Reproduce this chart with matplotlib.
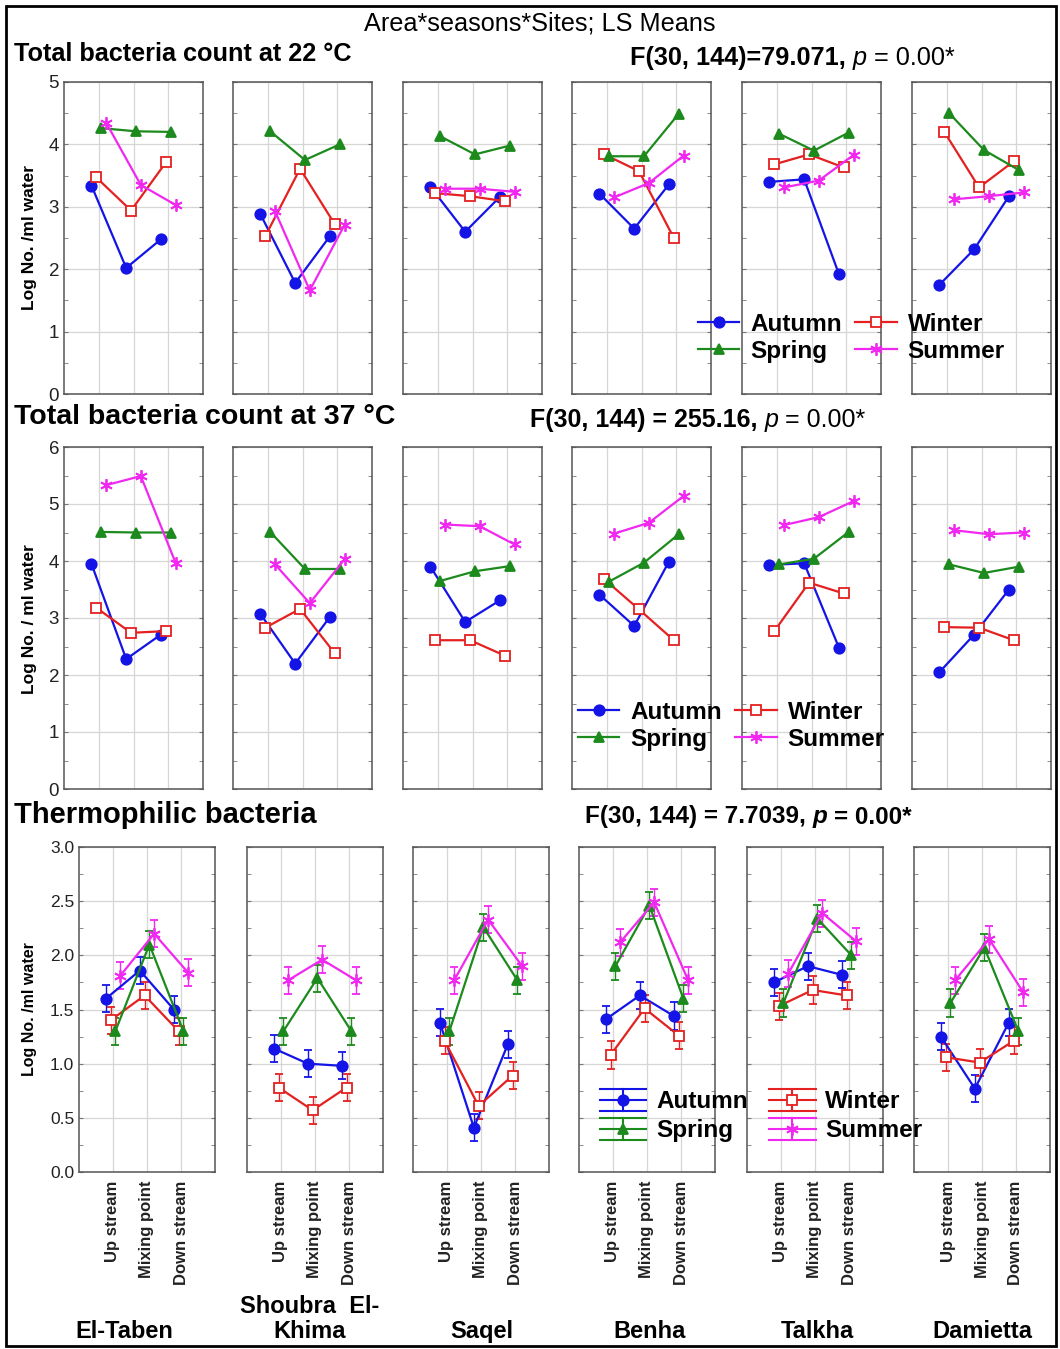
import numpy as np
import matplotlib.pyplot as plt
from matplotlib.lines import Line2D
from matplotlib.patches import Rectangle
from matplotlib.legend_handler import HandlerBase
from matplotlib.ticker import MultipleLocator, FormatStrFormatter

plt.rcParams['font.family'] = ['Liberation Sans', 'DejaVu Sans']

######################## data (log No./ml water) ########################
sites = ['El-Taben', 'Shoubra  El-\nKhima', 'Saqel', 'Benha', 'Talkha', 'Damietta']
points = ['Up stream', 'Mixing point', 'Down stream']
seasons = ['Autumn', 'Winter', 'Spring', 'Summer']

# one row per site: up stream, mixing point, down stream
tbc22_autumn = [[3.34, 2.02, 2.48], [2.88, 1.78, 2.53], [3.32, 2.60, 3.16],
                [3.21, 2.65, 3.36], [3.40, 3.44, 1.92], [1.75, 2.32, 3.17]]
tbc22_winter = [[3.47, 2.94, 3.71], [2.53, 3.61, 2.72], [3.22, 3.17, 3.09],
                [3.84, 3.57, 2.50], [3.68, 3.84, 3.63], [4.20, 3.31, 3.73]]
tbc22_spring = [[4.26, 4.21, 4.20], [4.21, 3.75, 4.00], [4.13, 3.84, 3.98],
                [3.81, 3.81, 4.49], [4.17, 3.90, 4.19], [4.50, 3.91, 3.59]]
tbc22_summer = [[4.35, 3.35, 3.03], [2.93, 1.66, 2.71], [3.29, 3.29, 3.24],
                [3.15, 3.38, 3.82], [3.31, 3.42, 3.83], [3.12, 3.17, 3.23]]

tbc37_autumn = [[3.95, 2.28, 2.71], [3.07, 2.20, 3.02], [3.90, 2.93, 3.31],
                [3.41, 2.86, 3.99], [3.93, 3.96, 2.48], [2.05, 2.71, 3.50]]
tbc37_winter = [[3.18, 2.74, 2.77], [2.83, 3.16, 2.38], [2.61, 2.61, 2.34],
                [3.68, 3.15, 2.61], [2.77, 3.62, 3.43], [2.84, 2.83, 2.61]]
tbc37_spring = [[4.51, 4.50, 4.50], [4.51, 3.86, 3.86], [3.65, 3.82, 3.91],
                [3.64, 3.97, 4.47], [3.94, 4.04, 4.51], [3.94, 3.79, 3.90]]
tbc37_summer = [[5.33, 5.49, 3.97], [3.94, 3.26, 4.03], [4.64, 4.61, 4.29],
                [4.48, 4.67, 5.14], [4.63, 4.77, 5.05], [4.54, 4.47, 4.50]]

thermo_autumn = [[1.60, 1.86, 1.50], [1.14, 1.00, 0.98], [1.38, 0.41, 1.18],
                 [1.41, 1.63, 1.44], [1.75, 1.90, 1.82], [1.25, 0.77, 1.38]]
thermo_winter = [[1.40, 1.63, 1.30], [0.78, 0.57, 0.78], [1.21, 0.61, 0.89],
                 [1.08, 1.51, 1.26], [1.53, 1.68, 1.63], [1.06, 1.01, 1.21]]
thermo_spring = [[1.30, 2.10, 1.30], [1.30, 1.79, 1.30], [1.30, 2.26, 1.77],
                 [1.90, 2.46, 1.60], [1.56, 2.34, 2.00], [1.56, 2.07, 1.30]]
thermo_summer = [[1.81, 2.20, 1.84], [1.77, 1.96, 1.77], [1.77, 2.33, 1.90],
                 [2.12, 2.49, 1.77], [1.83, 2.39, 2.13], [1.77, 2.15, 1.66]]
thermo_se = 0.125

######################## styles / layout ########################
W, H = 1060, 1349
colors = {'Autumn': '#1414e6', 'Winter': '#e42020', 'Spring': '#1c8a1c', 'Summer': '#f028f0'}
markers = {'Autumn': 'o', 'Winter': 's', 'Spring': '^', 'Summer': (6, 2, 0)}
msizes = {'Autumn': 7.5, 'Winter': 6.5, 'Spring': 6.5, 'Summer': 9}
shift = {'Autumn': -0.21, 'Winter': -0.07, 'Spring': 0.07, 'Summer': 0.21}


def rect(left, top, width, height):
    return [left / W, 1 - (top + height) / H, width / W, height / H]


def style(season):
    c = colors[season]
    return dict(color=c, marker=markers[season], ms=msizes[season], mec=c,
                mfc='white' if season == 'Winter' else c, mew=1.3, lw=1.6)


fig = plt.figure(figsize=(W / 100, H / 100), dpi=100)
renderer = fig.canvas.get_renderer()


def panel(box, data, site, ymax, step, ylabels, err=None, xlabels=False):
    ax = fig.add_axes(rect(*box))
    for s, season in enumerate(seasons):
        x = np.arange(1, 4) + shift[season]
        y = data[s][site]
        if err is None:
            ax.plot(x, y, zorder=3, **style(season))
        else:
            ax.errorbar(x, y, yerr=err, capsize=3, elinewidth=1.0, capthick=1.0,
                        zorder=3, **style(season))
    ax.set_xlim(0, 4)
    ax.set_ylim(0, ymax)
    ax.set_xticks([1, 2, 3])
    ax.yaxis.set_major_locator(MultipleLocator(step))
    ax.yaxis.set_minor_locator(MultipleLocator(step / 2))
    ax.grid(True, which='major', color='#d6d6d6', lw=0.9)
    ax.set_axisbelow(True)
    for sp in ax.spines.values():
        sp.set_color('#555555')
        sp.set_linewidth(1.1)
    ax.tick_params(which='both', direction='in', length=3, color='#777777',
                   right=True, top=False, labelcolor='#222222')
    ax.tick_params(axis='y', labelsize=13.5 if step >= 1 else 12.5)
    ax.tick_params(axis='x', length=0)
    if step < 1:
        ax.yaxis.set_major_formatter(FormatStrFormatter('%.1f'))
    if not ylabels:
        ax.set_yticklabels([])
    if xlabels:
        ax.set_xticklabels(points, rotation=90, fontweight='bold', fontsize=12,
                           va='top', ha='center')
        ax.tick_params(axis='x', pad=6)
    else:
        ax.set_xticklabels([])
    return ax


lefts_top = [64, 233, 403, 572, 742, 912]
lefts_bot = [79, 247, 413, 579, 747, 914]

tbc22 = [tbc22_autumn, tbc22_winter, tbc22_spring, tbc22_summer]
tbc37 = [tbc37_autumn, tbc37_winter, tbc37_spring, tbc37_summer]
thermo = [thermo_autumn, thermo_winter, thermo_spring, thermo_summer]

for i in range(6):
    panel((lefts_top[i], 82, 139, 312), tbc22, i, 5, 1, i == 0)
    panel((lefts_top[i], 447, 139, 342), tbc37, i, 6, 1, i == 0)
    panel((lefts_bot[i], 847, 136, 325), thermo, i, 3.0, 0.5, i == 0,
          err=thermo_se, xlabels=True)


def fx(x):
    return x / W


def fy(y):
    return 1 - y / H


def text_runs(x, y, parts, size):
    # write pieces of differing style one after another on a line
    gap = size * 0.28 * 100 / 72
    for txt, kw in parts:
        t = fig.text(fx(x), fy(y), txt, fontsize=size, va='center', **kw)
        x += t.get_window_extent(renderer).width + gap


# headings
fig.text(fx(540), fy(24), 'Area*seasons*Sites; LS Means', ha='center', va='center',
         fontsize=18.2)
fig.text(fx(14), fy(54), 'Total bacteria count at 22 °C', fontweight='bold',
         fontsize=18.2, va='center')
text_runs(630, 58, [('F(30, 144)=79.071,', {'fontweight': 'bold'}),
                    ('p', {'style': 'italic'}), ('= 0.00*', {})], 18.2)
fig.text(fx(14), fy(417), 'Total bacteria count at 37 °C', fontweight='bold',
         fontsize=20.5, va='center')
text_runs(530, 420, [('F(30, 144) = 255.16,', {'fontweight': 'bold'}),
                     ('p', {'style': 'italic'}), ('= 0.00*', {})], 18)
fig.text(fx(14), fy(815), 'Thermophilic bacteria', fontweight='bold',
         fontsize=21, va='center')
text_runs(585, 817, [('F(30, 144) = 7.7039,', {'fontweight': 'bold'}),
                     ('p', {'style': 'italic', 'fontweight': 'bold'}),
                     ('= 0.00*', {'fontweight': 'bold'})], 17.5)

# y axis titles
fig.text(fx(30), fy(238), 'Log No. /ml water', rotation=90, fontweight='bold',
         fontsize=12.5, ha='center', va='center')
fig.text(fx(30), fy(619), 'Log No. / ml water', rotation=90, fontweight='bold',
         fontsize=12.5, ha='center', va='center')
fig.text(fx(30), fy(1009), 'Log No. /ml water', rotation=90, fontweight='bold',
         fontsize=11.5, ha='center', va='center')

# site names under the bottom row
site_x = [124, 310, 482, 650, 817, 982]
for name, x in zip(sites, site_x):
    fig.text(fx(x), fy(1343), name, ha='center', va='bottom', fontweight='bold',
             fontsize=17, linespacing=1.1)

# legends
line_handles = [Line2D([], [], **style(s)) for s in ['Autumn', 'Spring', 'Winter', 'Summer']]
line_labels = ['Autumn', 'Spring', 'Winter', 'Summer']

leg_kw = dict(loc='upper left', ncol=2, frameon=False, borderpad=0, borderaxespad=0,
              handlelength=1.7, handletextpad=0.45, columnspacing=0.55,
              labelspacing=0.15, prop={'weight': 'bold', 'size': 17.5}, numpoints=1)
fig.legend(line_handles, line_labels, bbox_to_anchor=(fx(698), fy(313)), **leg_kw)
fig.legend(line_handles, line_labels, bbox_to_anchor=(fx(578), fy(701)), **leg_kw)


class ErrorBarHandle(HandlerBase):
    # statistica style key: whisker lines above and below the marker line
    def create_artists(self, legend, orig, xdescent, ydescent, width, height,
                       fontsize, trans):
        c = orig.get_color()
        x0, x1 = -xdescent, width - xdescent
        xm = (x0 + x1) / 2
        yc = height / 2 - ydescent
        dy = height * 0.5
        arts = [Line2D([x0, x1], [yc, yc], color=c, lw=1.5),
                Line2D([x0, x1], [yc + dy, yc + dy], color=c, lw=1.5),
                Line2D([x0, x1], [yc - dy, yc - dy], color=c, lw=1.5),
                Line2D([xm, xm], [yc - dy, yc + dy], color=c, lw=1.5),
                Line2D([xm], [yc], marker=orig.get_marker(), ms=orig.get_markersize(),
                       mfc=orig.get_markerfacecolor(), mec=c, mew=1.3, lw=0)]
        for a in arts:
            a.set_transform(trans)
        return arts


fig.legend(line_handles, line_labels, bbox_to_anchor=(fx(600), fy(1089)),
           handler_map={Line2D: ErrorBarHandle()},
           **{**leg_kw, 'handlelength': 1.9, 'handleheight': 1.0,
              'labelspacing': 0.2, 'columnspacing': 0.9, 'handletextpad': 0.4})

# outer frame
fig.add_artist(Rectangle((fx(6), fy(1346)), fx(1050), 1340 / H, fill=False,
                         lw=2, edgecolor='black', transform=fig.transFigure))

fig.savefig('out.png', dpi=100)
